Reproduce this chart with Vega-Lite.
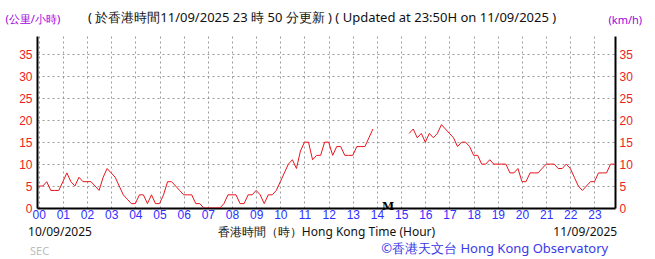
{
  "$schema": "https://vega.github.io/schema/vega-lite/v6.json",
  "autosize": "none",
  "width": 578,
  "height": 172,
  "padding": {"left": 37, "top": 36, "right": 40, "bottom": 51},
  "background": "white",
  "title": {
    "text": "( 於香港時間11/09/2025 23 時 50 分更新 ) ( Updated at 23:50H on 11/09/2025 )",
    "anchor": "start",
    "frame": "group",
    "dx": 51,
    "dy": 23,
    "offset": 11,
    "font": "Noto Sans",
    "fontSize": 13,
    "fontWeight": "normal",
    "color": "#111111"
  },
  "config": {
    "view": {"stroke": null},
    "axis": {
      "labelFont": "Liberation Sans",
      "titleFont": "Noto Sans",
      "domainColor": "#000000",
      "domainWidth": 2,
      "ticks": false,
      "gridColor": "#9a9a9a",
      "gridDash": [2, 3],
      "gridWidth": 1
    },
    "axisX": {"labelOverlap": false, "labelBound": false, "labelFlush": false}
  },
  "datasets": {
    "wind": [
      {"t": 0.0, "v": 5, "s": 1}, {"t": 0.1667, "v": 5, "s": 1}, {"t": 0.3333, "v": 6, "s": 1}, {"t": 0.5, "v": 4, "s": 1}, {"t": 0.6667, "v": 4, "s": 1}, {"t": 0.8333, "v": 4, "s": 1},
      {"t": 1.0, "v": 6, "s": 1}, {"t": 1.1667, "v": 8, "s": 1}, {"t": 1.3333, "v": 6, "s": 1}, {"t": 1.5, "v": 5, "s": 1}, {"t": 1.6667, "v": 7, "s": 1}, {"t": 1.8333, "v": 6, "s": 1},
      {"t": 2.0, "v": 6, "s": 1}, {"t": 2.1667, "v": 6, "s": 1}, {"t": 2.3333, "v": 5, "s": 1}, {"t": 2.5, "v": 4, "s": 1}, {"t": 2.6667, "v": 7, "s": 1}, {"t": 2.8333, "v": 9, "s": 1},
      {"t": 3.0, "v": 8, "s": 1}, {"t": 3.1667, "v": 7, "s": 1}, {"t": 3.3333, "v": 5, "s": 1}, {"t": 3.5, "v": 3, "s": 1}, {"t": 3.6667, "v": 2, "s": 1}, {"t": 3.8333, "v": 1, "s": 1},
      {"t": 4.0, "v": 1, "s": 1}, {"t": 4.1667, "v": 3, "s": 1}, {"t": 4.3333, "v": 3, "s": 1}, {"t": 4.5, "v": 1, "s": 1}, {"t": 4.6667, "v": 3, "s": 1}, {"t": 4.8333, "v": 1, "s": 1},
      {"t": 5.0, "v": 1, "s": 1}, {"t": 5.1667, "v": 3, "s": 1}, {"t": 5.3333, "v": 6, "s": 1}, {"t": 5.5, "v": 6, "s": 1}, {"t": 5.6667, "v": 5, "s": 1}, {"t": 5.8333, "v": 4, "s": 1},
      {"t": 6.0, "v": 3, "s": 1}, {"t": 6.1667, "v": 3, "s": 1}, {"t": 6.3333, "v": 3, "s": 1}, {"t": 6.5, "v": 1, "s": 1}, {"t": 6.6667, "v": 1, "s": 1}, {"t": 6.8333, "v": 0, "s": 1},
      {"t": 7.0, "v": 0, "s": 1}, {"t": 7.1667, "v": 0, "s": 1}, {"t": 7.3333, "v": 0, "s": 1}, {"t": 7.5, "v": 0, "s": 1}, {"t": 7.6667, "v": 1, "s": 1}, {"t": 7.8333, "v": 3, "s": 1},
      {"t": 8.0, "v": 3, "s": 1}, {"t": 8.1667, "v": 3, "s": 1}, {"t": 8.3333, "v": 1, "s": 1}, {"t": 8.5, "v": 1, "s": 1}, {"t": 8.6667, "v": 3, "s": 1}, {"t": 8.8333, "v": 3, "s": 1},
      {"t": 9.0, "v": 4, "s": 1}, {"t": 9.1667, "v": 3, "s": 1}, {"t": 9.3333, "v": 1, "s": 1}, {"t": 9.5, "v": 3, "s": 1}, {"t": 9.6667, "v": 3, "s": 1}, {"t": 9.8333, "v": 4, "s": 1},
      {"t": 10.0, "v": 6, "s": 1}, {"t": 10.1667, "v": 8, "s": 1}, {"t": 10.3333, "v": 10, "s": 1}, {"t": 10.5, "v": 11, "s": 1}, {"t": 10.6667, "v": 9, "s": 1}, {"t": 10.8333, "v": 13, "s": 1},
      {"t": 11.0, "v": 15, "s": 1}, {"t": 11.1667, "v": 15, "s": 1}, {"t": 11.3333, "v": 11, "s": 1}, {"t": 11.5, "v": 12, "s": 1}, {"t": 11.6667, "v": 12, "s": 1}, {"t": 11.8333, "v": 15, "s": 1},
      {"t": 12.0, "v": 15, "s": 1}, {"t": 12.1667, "v": 12, "s": 1}, {"t": 12.3333, "v": 14, "s": 1}, {"t": 12.5, "v": 14, "s": 1}, {"t": 12.6667, "v": 12, "s": 1}, {"t": 12.8333, "v": 12, "s": 1},
      {"t": 13.0, "v": 12, "s": 1}, {"t": 13.1667, "v": 14, "s": 1}, {"t": 13.3333, "v": 14, "s": 1}, {"t": 13.5, "v": 14, "s": 1}, {"t": 13.6667, "v": 16, "s": 1}, {"t": 13.8333, "v": 18, "s": 1},
      {"t": 15.3333, "v": 17, "s": 2}, {"t": 15.5, "v": 18, "s": 2}, {"t": 15.6667, "v": 16, "s": 2}, {"t": 15.8333, "v": 17, "s": 2},
      {"t": 16.0, "v": 15, "s": 2}, {"t": 16.1667, "v": 17, "s": 2}, {"t": 16.3333, "v": 16, "s": 2}, {"t": 16.5, "v": 17, "s": 2}, {"t": 16.6667, "v": 19, "s": 2}, {"t": 16.8333, "v": 18, "s": 2},
      {"t": 17.0, "v": 17, "s": 2}, {"t": 17.1667, "v": 16, "s": 2}, {"t": 17.3333, "v": 14, "s": 2}, {"t": 17.5, "v": 15, "s": 2}, {"t": 17.6667, "v": 15, "s": 2}, {"t": 17.8333, "v": 14, "s": 2},
      {"t": 18.0, "v": 12, "s": 2}, {"t": 18.1667, "v": 12, "s": 2}, {"t": 18.3333, "v": 10, "s": 2}, {"t": 18.5, "v": 10, "s": 2}, {"t": 18.6667, "v": 11, "s": 2}, {"t": 18.8333, "v": 10, "s": 2},
      {"t": 19.0, "v": 10, "s": 2}, {"t": 19.1667, "v": 10, "s": 2}, {"t": 19.3333, "v": 10, "s": 2}, {"t": 19.5, "v": 8, "s": 2}, {"t": 19.6667, "v": 8, "s": 2}, {"t": 19.8333, "v": 9, "s": 2},
      {"t": 20.0, "v": 6, "s": 2}, {"t": 20.1667, "v": 6, "s": 2}, {"t": 20.3333, "v": 8, "s": 2}, {"t": 20.5, "v": 8, "s": 2}, {"t": 20.6667, "v": 8, "s": 2}, {"t": 20.8333, "v": 9, "s": 2},
      {"t": 21.0, "v": 10, "s": 2}, {"t": 21.1667, "v": 10, "s": 2}, {"t": 21.3333, "v": 10, "s": 2}, {"t": 21.5, "v": 9, "s": 2}, {"t": 21.6667, "v": 9, "s": 2}, {"t": 21.8333, "v": 10, "s": 2},
      {"t": 22.0, "v": 9, "s": 2}, {"t": 22.1667, "v": 7, "s": 2}, {"t": 22.3333, "v": 5, "s": 2}, {"t": 22.5, "v": 4, "s": 2}, {"t": 22.6667, "v": 5, "s": 2}, {"t": 22.8333, "v": 6, "s": 2},
      {"t": 23.0, "v": 6, "s": 2}, {"t": 23.1667, "v": 8, "s": 2}, {"t": 23.3333, "v": 8, "s": 2}, {"t": 23.5, "v": 8, "s": 2}, {"t": 23.6667, "v": 10, "s": 2}, {"t": 23.8333, "v": 10, "s": 2}
    ],
    "notes": [
      {"t": -0.44, "label": "10/09/2025", "kind": "ldate"},
      {"t": 23.94, "label": "11/09/2025", "kind": "rdate"},
      {"t": -0.36, "label": "SEC", "kind": "sec"},
      {"t": 23.57, "label": "©香港天文台 Hong Kong Observatory", "kind": "copy"},
      {"t": 14.46, "label": "M", "kind": "m"}
    ]
  },
  "encoding": {
    "x": {
      "field": "t", "type": "quantitative",
      "scale": {"domain": [-0.07, 23.85], "nice": false, "zero": false},
      "axis": {
        "values": [0, 1, 2, 3, 4, 5, 6, 7, 8, 9, 10, 11, 12, 13, 14, 15, 16, 17, 18, 19, 20, 21, 22, 23],
        "labelExpr": "datum.value < 10 ? '0' + datum.value : '' + datum.value",
        "labelColor": "#2f2fff",
        "labelFontSize": 12,
        "labelOverlap": false,
        "labelPadding": 1,
        "title": "香港時間（時）Hong Kong Time (Hour)",
        "titleFontSize": 12,
        "titleFontWeight": "normal",
        "titleColor": "#111111",
        "titlePadding": 6,
        "grid": true
      }
    }
  },
  "layer": [
    {
      "data": {"name": "wind"},
      "mark": {"type": "line", "color": "#e8141c", "strokeWidth": 1, "clip": true},
      "encoding": {
        "y": {
          "field": "v", "type": "quantitative",
          "scale": {"domain": [0, 39.2], "nice": false},
          "axis": {
            "values": [0, 5, 10, 15, 20, 25, 30, 35],
            "labelColor": "#ee2222",
            "labelFontSize": 12,
            "labelPadding": 5,
            "title": "(公里/小時)",
            "titleAngle": 0,
            "titleAlign": "left",
            "titleBaseline": "alphabetic",
            "titleX": -32,
            "titleY": -14,
            "titleColor": "#a100e0",
            "titleFontSize": 11,
            "titleFontWeight": "normal",
            "grid": true
          }
        },
        "detail": {"field": "s", "type": "nominal"}
      }
    },
    {
      "data": {"name": "wind"},
      "mark": {"type": "line", "opacity": 0},
      "encoding": {
        "y": {
          "field": "v", "type": "quantitative",
          "scale": {"domain": [0, 39.2], "nice": false},
          "axis": {
            "orient": "right",
            "values": [0, 5, 10, 15, 20, 25, 30, 35],
            "labelColor": "#ee2222",
            "labelFontSize": 12,
            "labelPadding": 4,
            "grid": false,
            "title": "(km/h)",
            "titleAngle": 0,
            "titleAlign": "left",
            "titleBaseline": "alphabetic",
            "titleX": -7,
            "titleY": -13,
            "titleColor": "#a100e0",
            "titleFontSize": 11,
            "titleFontWeight": "normal"
          }
        }
      }
    },
    {
      "data": {"name": "notes"},
      "transform": [{"filter": "datum.kind == 'ldate'"}],
      "mark": {"type": "text", "align": "left", "baseline": "middle", "dy": 24, "font": "Noto Sans", "fontSize": 12, "color": "#111111"},
      "encoding": {
        "y": {"datum": 0, "type": "quantitative", "scale": {"domain": [0, 39.2], "nice": false}, "axis": null},
        "text": {"field": "label"}
      }
    },
    {
      "data": {"name": "notes"},
      "transform": [{"filter": "datum.kind == 'rdate'"}],
      "mark": {"type": "text", "align": "right", "baseline": "middle", "dy": 24, "font": "Noto Sans", "fontSize": 12, "color": "#111111"},
      "encoding": {
        "y": {"datum": 0, "type": "quantitative", "scale": {"domain": [0, 39.2], "nice": false}, "axis": null},
        "text": {"field": "label"}
      }
    },
    {
      "data": {"name": "notes"},
      "transform": [{"filter": "datum.kind == 'sec'"}],
      "mark": {"type": "text", "align": "left", "baseline": "middle", "dy": 44, "font": "Noto Sans", "fontSize": 11, "color": "#bbbbbb"},
      "encoding": {
        "y": {"datum": 0, "type": "quantitative", "scale": {"domain": [0, 39.2], "nice": false}, "axis": null},
        "text": {"field": "label"}
      }
    },
    {
      "data": {"name": "notes"},
      "transform": [{"filter": "datum.kind == 'copy'"}],
      "mark": {"type": "text", "align": "right", "baseline": "middle", "dy": 41, "font": "Noto Sans", "fontSize": 13, "color": "#3a3ae6"},
      "encoding": {
        "y": {"datum": 0, "type": "quantitative", "scale": {"domain": [0, 39.2], "nice": false}, "axis": null},
        "text": {"field": "label"}
      }
    },
    {
      "data": {"name": "notes"},
      "transform": [{"filter": "datum.kind == 'm'"}],
      "mark": {"type": "text", "align": "center", "baseline": "middle", "dy": -1, "font": "DejaVu Serif", "fontSize": 11, "fontWeight": "bold", "color": "#000000"},
      "encoding": {
        "y": {"datum": 0, "type": "quantitative", "scale": {"domain": [0, 39.2], "nice": false}, "axis": null},
        "text": {"field": "label"}
      }
    }
  ],
  "resolve": {"scale": {"y": "independent"}, "axis": {"y": "independent"}}
}
